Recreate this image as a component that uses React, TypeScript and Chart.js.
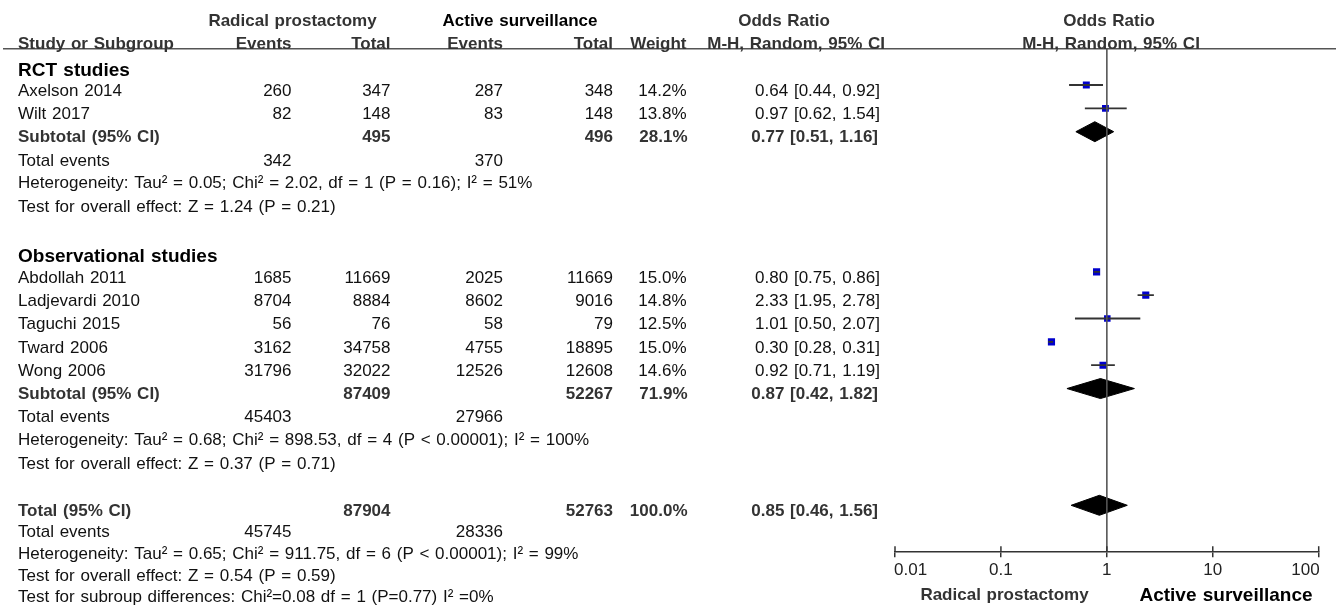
import React, { useEffect, useRef } from "react";
import { Chart, registerables } from "chart.js";

Chart.register(...registerables);

// ---------------- data ----------------
const studyNames = ["Axelson 2014", "Wilt 2017", "Abdollah 2011", "Ladjevardi 2010", "Taguchi 2015", "Tward 2006", "Wong 2006"];
const studyGroup = [0, 0, 1, 1, 1, 1, 1];
const rpEvents = [260, 82, 1685, 8704, 56, 3162, 31796];
const rpTotal = [347, 148, 11669, 8884, 76, 34758, 32022];
const asEvents = [287, 83, 2025, 8602, 58, 4755, 12526];
const asTotal = [348, 148, 11669, 9016, 79, 18895, 12608];
const weights = [14.2, 13.8, 15.0, 14.8, 12.5, 15.0, 14.6];
const orEst = [0.64, 0.97, 0.8, 2.33, 1.01, 0.3, 0.92];
const orLow = [0.44, 0.62, 0.75, 1.95, 0.5, 0.28, 0.71];
const orHigh = [0.92, 1.54, 0.86, 2.78, 2.07, 0.31, 1.19];

const groupNames = ["RCT studies", "Observational studies"];
const groupRpTotal = [495, 87409];
const groupAsTotal = [496, 52267];
const groupWeight = [28.1, 71.9];
const groupEst = [0.77, 0.87];
const groupLow = [0.51, 0.42];
const groupHigh = [1.16, 1.82];
const groupRpEvents = [342, 45403];
const groupAsEvents = [370, 27966];
const groupHet = [
  "Heterogeneity: Tau\u00b2 = 0.05; Chi\u00b2 = 2.02, df = 1 (P = 0.16); I\u00b2 = 51%",
  "Heterogeneity: Tau\u00b2 = 0.68; Chi\u00b2 = 898.53, df = 4 (P < 0.00001); I\u00b2 = 100%",
];
const groupTest = ["Test for overall effect: Z = 1.24 (P = 0.21)", "Test for overall effect: Z = 0.37 (P = 0.71)"];

const overallRpTotal = [87904];
const overallAsTotal = [52763];
const overallWeight = [100.0];
const overallEst = [0.85];
const overallLow = [0.46];
const overallHigh = [1.56];
const overallRpEvents = [45745];
const overallAsEvents = [28336];
const overallHet = ["Heterogeneity: Tau\u00b2 = 0.65; Chi\u00b2 = 911.75, df = 6 (P < 0.00001); I\u00b2 = 99%"];
const overallTest = ["Test for overall effect: Z = 0.54 (P = 0.59)"];
const subgroupTest = ["Test for subroup differences: Chi\u00b2=0.08 df = 1 (P=0.77) I\u00b2 =0%"];

const xTicks = [0.01, 0.1, 1, 10, 100];
const xTickLabels = ["0.01", "0.1", "1", "10", "100"];
const favoursLeft = "Radical prostactomy";
const favoursRight = "Active surveillance";

// ---------------- layout ----------------
const W = 1336;
const H = 612;
const FONT = "'Liberation Sans', Arial, Helvetica, sans-serif";
const ROW_PX = 23.35;
const FIRST_ROW_PX = 85;
const PLOT_LEFT = 895;
const PLOT_RIGHT = 1318.7;
const PLOT_BOTTOM = 551.7;
const HEADER_ROW = -1.55;
const DIAMOND_H = 10 / ROW_PX;
const TEXT_DY = 6.3;

// row indices
const groupHeaderRows: number[] = [];
const groupSubRows: number[] = [];
const studyRows: number[] = [];
{
  let r = -1;
  groupNames.forEach((_, g) => {
    groupHeaderRows.push(r + 0.1);
    r += 1;
    studyNames.forEach((_, i) => {
      if (studyGroup[i] === g) {
        studyRows[i] = r;
        r += 1;
      }
    });
    groupSubRows.push(r);
    r += 5;
  });
}
const overallRow = groupSubRows[groupSubRows.length - 1] + 5;

const fmtOR = (e: number, l: number, h: number) => `${e.toFixed(2)} [${l.toFixed(2)}, ${h.toFixed(2)}]`;

export default function App() {
  const ref = useRef<HTMLCanvasElement | null>(null);

  useEffect(() => {
    document.body.style.margin = "0";
    const canvas = ref.current!;
    const datasets: any[] = [];

    datasets.push({
      type: "scatter",
      data: [
        { x: 1, y: HEADER_ROW },
        { x: 1, y: 40 },
      ],
      showLine: true,
      borderColor: "#555",
      borderWidth: 1.6,
      pointRadius: 0,
    });

    studyNames.forEach((_, i) => {
      datasets.push({
        type: "scatter",
        data: [
          { x: orLow[i], y: studyRows[i] },
          { x: orHigh[i], y: studyRows[i] },
        ],
        showLine: true,
        borderColor: "#333",
        borderWidth: 1.8,
        pointRadius: 0,
      });
    });

    datasets.push({
      type: "scatter",
      data: studyNames.map((_, i) => ({ x: orEst[i], y: studyRows[i] })),
      pointStyle: "rect",
      pointRadius: weights.map((w) => (Math.sqrt(w) * 1.85) / Math.SQRT2),
      backgroundColor: "#0000CC",
      borderWidth: 0,
    });

    const diamond = (e: number, l: number, h: number, r: number) => ({
      type: "scatter",
      data: [
        { x: l, y: r },
        { x: e, y: r - DIAMOND_H },
        { x: h, y: r },
        { x: e, y: r + DIAMOND_H },
        { x: l, y: r },
      ],
      showLine: true,
      fill: "shape",
      tension: 0,
      borderColor: "#000",
      backgroundColor: "#000",
      borderWidth: 1,
      pointRadius: 0,
    });
    groupNames.forEach((_, g) => datasets.push(diamond(groupEst[g], groupLow[g], groupHigh[g], groupSubRows[g])));
    datasets.push(diamond(overallEst[0], overallLow[0], overallHigh[0], overallRow));

    const yMin = -FIRST_ROW_PX / ROW_PX;
    const yMax = yMin + PLOT_BOTTOM / ROW_PX;

    const textPlugin = {
      id: "forestText",
      afterDraw(chart: any) {
        const ctx = chart.ctx as any;
        const ys = chart.scales.y;
        const xs = chart.scales.x;
        const Y = (r: number) => ys.getPixelForValue(r) + TEXT_DY;
        ctx.save();
        ctx.textBaseline = "middle";
        const txt = (s: string, x: number, y: number, align: CanvasTextAlign, bold: boolean, size: number, color: string) => {
          ctx.font = `${bold ? "bold " : ""}${size}px ${FONT}`;
          ctx.fillStyle = color;
          ctx.textAlign = align;
          ctx.wordSpacing = "1px";
          ctx.fillText(s, x, y);
        };
        const REG = "#111";
        const GREY = "#333";
        const C = { name: 18, rpE: 291.5, rpT: 390.5, asE: 503, asT: 613, w: 686.5, or: 880 };

        // header line
        ctx.strokeStyle = "#555";
        ctx.lineWidth = 1.6;
        ctx.beginPath();
        const hy = ys.getPixelForValue(HEADER_ROW);
        ctx.moveTo(3, hy);
        ctx.lineTo(W, hy);
        ctx.stroke();

        // headers
        const h1 = Y(-3);
        txt("Radical prostactomy", 292.5, h1, "center", true, 17, GREY);
        txt("Active surveillance", 520, h1, "center", true, 17, "#000");
        txt("Odds Ratio", 784, h1, "center", true, 17, GREY);
        txt("Odds Ratio", 1109, h1, "center", true, 17, GREY);
        const h2 = Y(-2);
        txt("Study or Subgroup", C.name, h2, "left", true, 17, GREY);
        txt("Events", C.rpE, h2, "right", true, 17, GREY);
        txt("Total", C.rpT, h2, "right", true, 17, GREY);
        txt("Events", C.asE, h2, "right", true, 17, GREY);
        txt("Total", C.asT, h2, "right", true, 17, GREY);
        txt("Weight", C.w, h2, "right", true, 17, GREY);
        txt("M-H, Random, 95% CI", 885, h2, "right", true, 17, GREY);
        txt("M-H, Random, 95% CI", 1111, h2, "center", true, 17, GREY);

        // groups
        groupNames.forEach((gName, g) => {
          txt(gName, C.name, Y(groupHeaderRows[g]), "left", true, 19, "#000");
          studyNames.forEach((s, i) => {
            if (studyGroup[i] !== g) return;
            const y = Y(studyRows[i]);
            txt(s, C.name, y, "left", false, 17, REG);
            txt(String(rpEvents[i]), C.rpE, y, "right", false, 17, REG);
            txt(String(rpTotal[i]), C.rpT, y, "right", false, 17, REG);
            txt(String(asEvents[i]), C.asE, y, "right", false, 17, REG);
            txt(String(asTotal[i]), C.asT, y, "right", false, 17, REG);
            txt(weights[i].toFixed(1) + "%", C.w, y, "right", false, 17, REG);
            txt(fmtOR(orEst[i], orLow[i], orHigh[i]), C.or, y, "right", false, 17, REG);
          });
          const sr = groupSubRows[g];
          const y = Y(sr - 0.03);
          txt("Subtotal (95% CI)", C.name, y, "left", true, 17, GREY);
          txt(String(groupRpTotal[g]), C.rpT, y, "right", true, 17, GREY);
          txt(String(groupAsTotal[g]), C.asT, y, "right", true, 17, GREY);
          txt(groupWeight[g].toFixed(1) + "%", C.w + 1, y, "right", true, 17, GREY);
          txt(fmtOR(groupEst[g], groupLow[g], groupHigh[g]), C.or - 2, y, "right", true, 17, GREY);
          const ey = Y(sr + 0.98);
          txt("Total events", C.name, ey, "left", false, 17, REG);
          txt(String(groupRpEvents[g]), C.rpE, ey, "right", false, 17, REG);
          txt(String(groupAsEvents[g]), C.asE, ey, "right", false, 17, REG);
          txt(groupHet[g], C.name, Y(sr + 1.96), "left", false, 17, REG);
          txt(groupTest[g], C.name, Y(sr + 2.96), "left", false, 17, REG);
        });

        // overall
        const oy = Y(overallRow - 0.03);
        txt("Total (95% CI)", C.name, oy, "left", true, 17, GREY);
        txt(String(overallRpTotal[0]), C.rpT, oy, "right", true, 17, GREY);
        txt(String(overallAsTotal[0]), C.asT, oy, "right", true, 17, GREY);
        txt(overallWeight[0].toFixed(1) + "%", C.w + 1, oy, "right", true, 17, GREY);
        txt(fmtOR(overallEst[0], overallLow[0], overallHigh[0]), C.or - 2, oy, "right", true, 17, GREY);
        const e2 = Y(overallRow + 0.9);
        txt("Total events", C.name, e2, "left", false, 17, REG);
        txt(String(overallRpEvents[0]), C.rpE, e2, "right", false, 17, REG);
        txt(String(overallAsEvents[0]), C.asE, e2, "right", false, 17, REG);
        txt(overallHet[0], C.name, Y(overallRow + 1.83), "left", false, 17, REG);
        txt(overallTest[0], C.name, Y(overallRow + 2.77), "left", false, 17, REG);
        txt(subgroupTest[0], C.name, Y(overallRow + 3.68), "left", false, 17, REG);

        // upper halves of the axis ticks + tick labels
        const axisY = chart.chartArea.bottom;
        ctx.strokeStyle = "#333";
        ctx.lineWidth = 1.5;
        xTicks.forEach((v, i) => {
          const px = xs.getPixelForValue(v);
          ctx.beginPath();
          ctx.moveTo(px, axisY - 5.5);
          ctx.lineTo(px, axisY);
          ctx.stroke();
          const align: CanvasTextAlign = i === 0 ? "left" : i === xTicks.length - 1 ? "right" : "center";
          txt(xTickLabels[i], align === "left" ? px - 1 : align === "right" ? px + 1 : px, axisY + 19, align, false, 17, "#222");
        });
        txt(favoursLeft, 1004.5, axisY + 44, "center", true, 17, GREY);
        txt(favoursRight, 1226, axisY + 44, "center", true, 19, "#000");
        ctx.restore();
      },
    };

    const chart = new Chart(canvas, {
      type: "scatter",
      data: { datasets },
      options: {
        animation: false,
        responsive: false,
        devicePixelRatio: 1,
        layout: { autoPadding: false, padding: { left: PLOT_LEFT, right: W - PLOT_RIGHT, top: 0, bottom: 0 } },
        plugins: { legend: { display: false }, tooltip: { enabled: false } },
        scales: {
          x: {
            type: "logarithmic",
            min: xTicks[0],
            max: xTicks[xTicks.length - 1],
            position: "bottom",
            afterBuildTicks: (s: any) => {
              s.ticks = xTicks.map((v) => ({ value: v, major: true }));
            },
            afterFit: (s: any) => {
              s.height = H - PLOT_BOTTOM;
            },
            ticks: { display: false },
            grid: { drawOnChartArea: false, drawTicks: true, tickLength: 5.5, color: "#333", lineWidth: 1.5 },
            border: { display: true, color: "#333", width: 1.5 },
          },
          y: {
            type: "linear",
            min: yMin,
            max: yMax,
            reverse: true,
            display: false,
          },
        },
      } as any,
      plugins: [textPlugin],
    });
    return () => chart.destroy();
  }, []);

  return <canvas ref={ref} width={W} height={H} style={{ display: "block", width: W, height: H }} />;
}
